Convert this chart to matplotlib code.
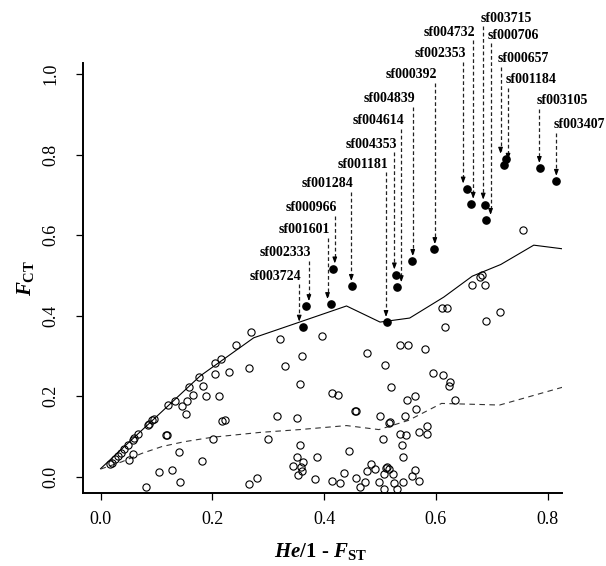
import matplotlib
matplotlib.use("Agg")
import matplotlib.pyplot as plt

# ---- open circles (neutral loci) ----
open_x = [0.0167, 0.0197, 0.0256, 0.0316, 0.0358, 0.0423, 0.0495, 0.0585, 0.0603, 0.0674,
          0.0853, 0.0871, 0.0914, 0.0955, 0.1165, 0.1185, 0.0585, 0.0507, 0.141, 0.182,
          0.1045, 0.128, 0.142, 0.0818, 0.121, 0.133, 0.145, 0.153, 0.155, 0.2007,
          0.1586, 0.1645, 0.1765, 0.1824, 0.1878, 0.2045, 0.205, 0.2122, 0.2146, 0.2295,
          0.2176, 0.2224, 0.2653, 0.2689, 0.2426, 0.3207, 0.3308, 0.3165, 0.300, 0.2653,
          0.280, 0.3517, 0.3565, 0.3517, 0.3434, 0.3583, 0.3624, 0.3529, 0.3612, 0.3606,
          0.3565, 0.3964, 0.3875, 0.3845,
          0.4148, 0.4255, 0.4545, 0.4570, 0.4437,
          0.414, 0.4289, 0.4348, 0.457, 0.4635, 0.4737, 0.4767, 0.4839, 0.4903, 0.4976,
          0.5065, 0.5065, 0.5125, 0.5155, 0.5233, 0.5256, 0.5305, 0.5412, 0.5573, 0.5633,
          0.5692, 0.510,
          0.477, 0.5096, 0.5203, 0.5363, 0.55, 0.5807, 0.5481, 0.5618, 0.5641, 0.5452,
          0.5005, 0.5155, 0.517, 0.505, 0.5364, 0.547, 0.539, 0.5406, 0.5704, 0.5847,
          0.5835, 0.5944, 0.6133, 0.6252, 0.6234, 0.6341, 0.6104, 0.6193, 0.6169, 0.6892,
          0.7141, 0.665, 0.6875, 0.678, 0.682, 0.7556]
open_y = [0.0316, 0.033, 0.043, 0.0516, 0.058, 0.068, 0.079, 0.0914, 0.0956, 0.1056,
          0.1288, 0.131, 0.141, 0.1437, 0.1039, 0.1039, 0.0558, 0.0416, 0.0623, 0.040,
          0.0125, 0.0167, -0.0125, -0.0264, 0.1786, 0.189, 0.176, 0.156, 0.187, 0.094,
          0.223, 0.204, 0.248, 0.225, 0.200, 0.256, 0.283, 0.200, 0.293, 0.259,
          0.139, 0.140, 0.271, 0.3595, 0.328, 0.342, 0.274, 0.150, 0.0926, -0.018,
          -0.0025, 0.1446, 0.0785, 0.0496, 0.0256, 0.0248, 0.0364, 0.005, 0.014, 0.299,
          0.2298, 0.3488, 0.048, -0.0066,
          0.209, 0.203, 0.162, 0.162, 0.0637,
          -0.0099, -0.0166, 0.0101, -0.0041, -0.0249, -0.0141, 0.0151, 0.0308, 0.0184, -0.0124,
          -0.0315, 0.0068, 0.0250, 0.0184, 0.0068, -0.0149, -0.0315, -0.0124, 0.0018, 0.0167,
          -0.0108, 0.022,
          0.308, 0.277, 0.223, 0.328, 0.328, 0.318, 0.190, 0.201, 0.169, 0.151,
          0.152, 0.133, 0.135, 0.093, 0.1056, 0.104, 0.079, 0.050, 0.110, 0.126,
          0.106, 0.258, 0.252, 0.2355, 0.2248, 0.190, 0.420, 0.420, 0.371, 0.386,
          0.410, 0.477, 0.477, 0.497, 0.501, 0.612]

# ---- outlier loci (filled) ----
out_names = ["sf003724", "sf002333", "sf001601", "sf000966", "sf001284", "sf001181",
             "sf004353", "sf004614", "sf004839", "sf000392", "sf002353", "sf004732",
             "sf003715", "sf000706", "sf000657", "sf001184", "sf003105", "sf003407"]
out_x = [0.363, 0.367, 0.4115, 0.415, 0.449, 0.513, 0.529, 0.531, 0.558, 0.596,
         0.655, 0.663, 0.688, 0.690, 0.725, 0.7216, 0.786, 0.814]
out_y = [0.372, 0.423, 0.428, 0.5165, 0.473, 0.3836, 0.5016, 0.470, 0.535, 0.5646,
         0.715, 0.677, 0.675, 0.637, 0.789, 0.774, 0.766, 0.734]
# annotation anchor (arrow x) and label height
lab_x = [0.3554, 0.3727, 0.406, 0.419, 0.4486, 0.5107, 0.5256, 0.538, 0.5585, 0.598,
         0.6487, 0.6667, 0.6846, 0.6977, 0.7156, 0.729, 0.785, 0.8154]
lab_y = [0.498, 0.556, 0.614, 0.668, 0.727, 0.776, 0.826, 0.884, 0.938, 0.998,
         1.050, 1.104, 1.139, 1.096, 1.038, 0.986, 0.934, 0.874]
lab_side = ["R"] * 12 + ["L"] * 6

# ---- threshold curves ----
sol_x = [0.0, 0.178, 0.274, 0.354, 0.44, 0.50, 0.553, 0.614, 0.665, 0.716, 0.775, 0.826]
sol_y = [0.020, 0.250, 0.345, 0.383, 0.424, 0.384, 0.394, 0.446, 0.498, 0.527, 0.575, 0.566]
dash_x = [0.0, 0.038, 0.074, 0.11, 0.15, 0.20, 0.285, 0.356, 0.44, 0.498, 0.551, 0.61,
          0.714, 0.826]
dash_y = [0.019, 0.037, 0.058, 0.075, 0.087, 0.098, 0.110, 0.117, 0.127, 0.117, 0.140,
          0.182, 0.178, 0.222]

xticks = [0.0, 0.2, 0.4, 0.6, 0.8]
yticks = [0.0, 0.2, 0.4, 0.6, 0.8, 1.0]

plt.rcParams["font.family"] = ["Liberation Serif", "DejaVu Serif"]
plt.rcParams["mathtext.fontset"] = "custom"
plt.rcParams["mathtext.rm"] = "Liberation Serif:bold"
plt.rcParams["mathtext.it"] = "Liberation Serif:bold:italic"
plt.rcParams["mathtext.bf"] = "Liberation Serif:bold"

W, H = 606, 566
fig = plt.figure(figsize=(W / 100, H / 100), dpi=100)
L, R, T, B = 82.7, 561.7, 63.3, 492.7
ax = fig.add_axes([L / W, (H - B) / H, (R - L) / W, (B - T) / H])

ax.plot(sol_x, sol_y, color="black", lw=0.8)
ax.plot(dash_x, dash_y, color="#333333", lw=0.8, ls=(0, (5, 4)))
ax.plot(open_x, open_y, "o", mfc="none", mec="black", ms=5.2, mew=0.8, ls="none")
ax.plot(out_x, out_y, "o", color="black", ms=5.2, ls="none")

dx = 0.0045
for name, px, py, axx, ly, side in zip(out_names, out_x, out_y, lab_x, lab_y, lab_side):
    tip = py + 0.013
    ax.plot([axx, axx], [ly - 0.02, tip + 0.008], color="#222222", lw=0.9,
            ls=(0, (3, 2)), clip_on=False)
    ax.annotate("", xy=(axx, tip), xytext=(axx, tip + 0.012),
                arrowprops=dict(arrowstyle="-|>,head_length=0.35,head_width=0.13",
                                color="black", lw=0.8, shrinkA=0, shrinkB=0),
                annotation_clip=False)
    if side == "R":
        ax.text(axx + dx, ly, name, ha="right", va="center", fontsize=10,
                fontweight="bold", clip_on=False)
    else:
        ax.text(axx - dx, ly, name, ha="left", va="center", fontsize=10,
                fontweight="bold", clip_on=False)

ax.set_xlim(-0.032, 0.825)
ax.set_ylim(-0.0397, 1.0266)
ax.set_xticks(xticks)
ax.set_yticks(yticks)
ax.set_xticklabels([f"{v:.1f}" for v in xticks])
ax.set_yticklabels([f"{v:.1f}" for v in yticks], rotation=90, va="center")
for s in ["top", "right"]:
    ax.spines[s].set_visible(False)
for s in ["left", "bottom"]:
    ax.spines[s].set_linewidth(1.4)
ax.tick_params(axis="both", direction="out", length=5, width=0.9, labelsize=13)
ax.tick_params(axis="x", pad=8)
ax.tick_params(axis="y", pad=12)

fig.text(320 / W, 1 - 551 / H, r"$\mathit{He}\mathrm{/1}$ - $\mathit{F}_{\mathrm{ST}}$",
         ha="center", va="center", fontsize=15, fontweight="bold")
fig.text(25 / W, 1 - 278 / H, r"$\mathit{F}_{\mathrm{CT}}$", ha="center", va="center",
         fontsize=15, rotation=90)

fig.savefig("out.png", dpi=100)
